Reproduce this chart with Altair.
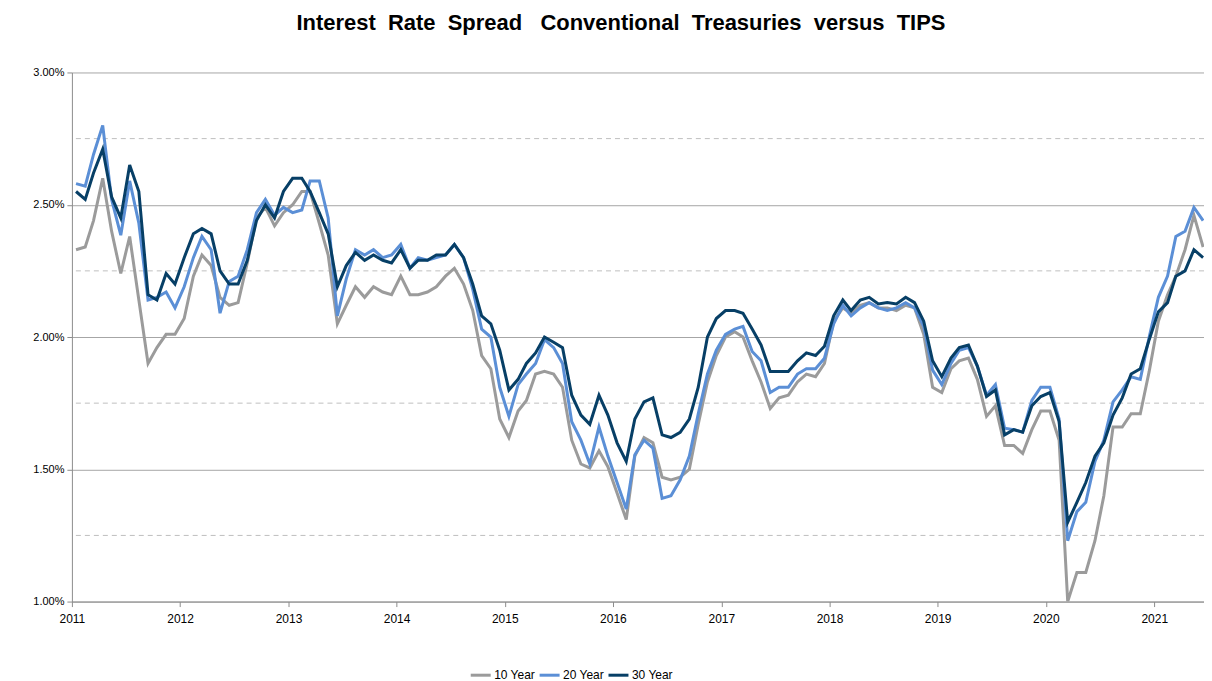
import altair as alt
import pandas as pd

series_names = ["10 Year", "20 Year", "30 Year"]
series_colors = ["#9b9b9b", "#5b8fd6", "#073f66"]

# monthly observations, Jan 2011 .. Jun 2021 (percent)
ten_year = [
    2.33, 2.34, 2.44, 2.60, 2.40, 2.24, 2.38, 2.14, 1.90, 1.96, 2.01, 2.01,
    2.07, 2.23, 2.31, 2.27, 2.15, 2.12, 2.13, 2.28, 2.45, 2.49, 2.42, 2.47,
    2.50, 2.55, 2.55, 2.43, 2.31, 2.05, 2.12, 2.19, 2.15, 2.19, 2.17, 2.16,
    2.23, 2.16, 2.16, 2.17, 2.19, 2.23, 2.26, 2.20, 2.10, 1.93, 1.88, 1.69,
    1.62, 1.72, 1.76, 1.86, 1.87, 1.86, 1.81, 1.61, 1.52, 1.505, 1.57, 1.51,
    1.41, 1.31, 1.55, 1.62, 1.60, 1.47, 1.46, 1.47, 1.50, 1.67, 1.83, 1.93,
    2.00, 2.02, 2.00, 1.91, 1.83, 1.73, 1.77, 1.78, 1.83, 1.86, 1.85, 1.90,
    2.06, 2.11, 2.09, 2.12, 2.13, 2.11, 2.11, 2.10, 2.12, 2.11, 2.01, 1.81,
    1.79, 1.88, 1.91, 1.92, 1.84, 1.70, 1.74, 1.59, 1.59, 1.56, 1.65, 1.72,
    1.72, 1.61, 1.00, 1.11, 1.11, 1.23, 1.40, 1.66, 1.66, 1.71, 1.71, 1.87,
    2.06, 2.16, 2.23, 2.33, 2.46, 2.34,
]
twenty_year = [
    2.58, 2.57, 2.69, 2.80, 2.52, 2.385, 2.59, 2.43, 2.14, 2.15, 2.17, 2.11,
    2.19, 2.30, 2.38, 2.33, 2.09, 2.21, 2.23, 2.33, 2.47, 2.52, 2.46, 2.49,
    2.47, 2.48, 2.59, 2.59, 2.45, 2.08, 2.22, 2.33, 2.31, 2.33, 2.30, 2.31,
    2.35, 2.26, 2.30, 2.29, 2.30, 2.31, 2.35, 2.30, 2.18, 2.03, 2.00, 1.81,
    1.70, 1.82, 1.86, 1.90, 1.99, 1.96, 1.90, 1.68, 1.61, 1.52, 1.66, 1.55,
    1.45, 1.35, 1.555, 1.61, 1.58, 1.39, 1.40, 1.46, 1.55, 1.71, 1.86, 1.95,
    2.01, 2.03, 2.04, 1.945, 1.91, 1.79, 1.81, 1.81, 1.86, 1.88, 1.88, 1.92,
    2.05, 2.12, 2.08, 2.11, 2.13, 2.11, 2.10, 2.11, 2.13, 2.11, 2.04, 1.875,
    1.82, 1.90, 1.95, 1.96, 1.89, 1.78, 1.82, 1.655, 1.65, 1.64, 1.76, 1.81,
    1.81, 1.69, 1.23, 1.34, 1.375, 1.53, 1.61, 1.755, 1.80, 1.85, 1.84, 2.00,
    2.15, 2.23, 2.38, 2.40, 2.49, 2.44,
]
thirty_year = [
    2.55, 2.52, 2.62, 2.71, 2.53, 2.45, 2.65, 2.55, 2.16, 2.14, 2.24, 2.20,
    2.30, 2.39, 2.41, 2.39, 2.25, 2.20, 2.20, 2.29, 2.44, 2.50, 2.45, 2.55,
    2.60, 2.60, 2.55, 2.47, 2.39, 2.19, 2.27, 2.32, 2.29, 2.31, 2.29, 2.28,
    2.33, 2.26, 2.29, 2.29, 2.31, 2.31, 2.35, 2.30, 2.20, 2.08, 2.05, 1.95,
    1.80, 1.84, 1.90, 1.94, 2.00, 1.98, 1.96, 1.78, 1.705, 1.67, 1.78, 1.705,
    1.60, 1.53, 1.69, 1.755, 1.77, 1.63, 1.62, 1.64, 1.69, 1.81, 2.00, 2.07,
    2.10, 2.10, 2.09, 2.03, 1.97, 1.87, 1.87, 1.87, 1.91, 1.94, 1.93, 1.965,
    2.08, 2.14, 2.10, 2.14, 2.15, 2.125, 2.13, 2.125, 2.15, 2.13, 2.06, 1.91,
    1.85, 1.92, 1.96, 1.97, 1.89, 1.775, 1.80, 1.63, 1.65, 1.64, 1.74, 1.775,
    1.79, 1.68, 1.30, 1.375, 1.45, 1.55, 1.60, 1.705, 1.77, 1.86, 1.88, 1.99,
    2.095, 2.13, 2.23, 2.25, 2.33, 2.30,
]

y_ticks = [1.0, 1.5, 2.0, 2.5, 3.0]
y_dashed = [1.25, 1.75, 2.25, 2.75]
year_ticks = list(range(2011, 2022))
title_text = "Interest\u00a0 Rate\u00a0 Spread\u00a0\u00a0 Conventional\u00a0 Treasuries\u00a0 versus\u00a0 TIPS"

dates = pd.date_range("2011-01-01", periods=len(ten_year), freq="MS") + pd.Timedelta(days=14)
wide = pd.DataFrame({"date": dates, "10 Year": ten_year, "20 Year": twenty_year, "30 Year": thirty_year})
df = wide.melt(id_vars="date", var_name="series", value_name="spread")
df["order"] = df["series"].map({n: i for i, n in enumerate(series_names)})

FONT = "Liberation Sans"

x_scale = alt.Scale(domain=[alt.DateTime(year=2011, month=1, date=1),
                            alt.DateTime(year=2021, month=6, date=18)])
y_scale = alt.Scale(domain=[1.0, 3.0], nice=False, zero=False)

lines = alt.Chart(df).mark_line(strokeWidth=3, clip=True).encode(
    x=alt.X("date:T", scale=x_scale, title=None,
            axis=alt.Axis(values=[alt.DateTime(year=y, month=1, date=1) for y in year_ticks],
                          format="%Y", grid=False, domainColor="#8c8c8c", tickColor="#8c8c8c",
                          tickSize=5, labelPadding=7, labelFont=FONT, labelFontSize=12,
                          labelColor="#000000", labelAngle=0, labelFlush=False)),
    y=alt.Y("spread:Q", scale=y_scale, title=None,
            axis=alt.Axis(values=y_ticks, labelExpr="format(datum.value, '.2f') + '%'",
                          grid=True, gridColor="#a6a6a6", gridWidth=1,
                          domainColor="#8c8c8c", tickColor="#8c8c8c", tickSize=5,
                          labelPadding=3, labelFont=FONT, labelFontSize=11,
                          labelColor="#000000")),
    color=alt.Color("series:N", sort=series_names,
                    scale=alt.Scale(domain=series_names, range=series_colors),
                    legend=alt.Legend(title=None, orient="none", direction="horizontal",
                                      legendX=398, legendY=592, symbolType="stroke",
                                      symbolStrokeWidth=3, symbolSize=400,
                                      labelFont=FONT, labelFontSize=12, labelColor="#000000",
                                      columnPadding=-2, labelOffset=2)),
    order=alt.Order("order:Q"),
)

dashed = alt.Chart(pd.DataFrame({"v": y_dashed})).mark_rule(
    strokeDash=[5, 4], color="#bfbfbf", strokeWidth=1
).encode(y=alt.Y("v:Q", scale=y_scale))

chart = alt.layer(dashed, lines).properties(
    width=1134, height=530,
    autosize=alt.AutoSizeParams(type="none"),
    padding={"left": 64, "top": 64, "right": 0, "bottom": 79},
    title=alt.TitleParams(title_text,
                          font=FONT, fontSize=22, fontWeight="bold", color="#000000",
                          anchor="middle", offset=32, dx=-17),
).configure_view(stroke=None)

chart.save("out.html", embed_options={"renderer": "svg", "actions": False})
